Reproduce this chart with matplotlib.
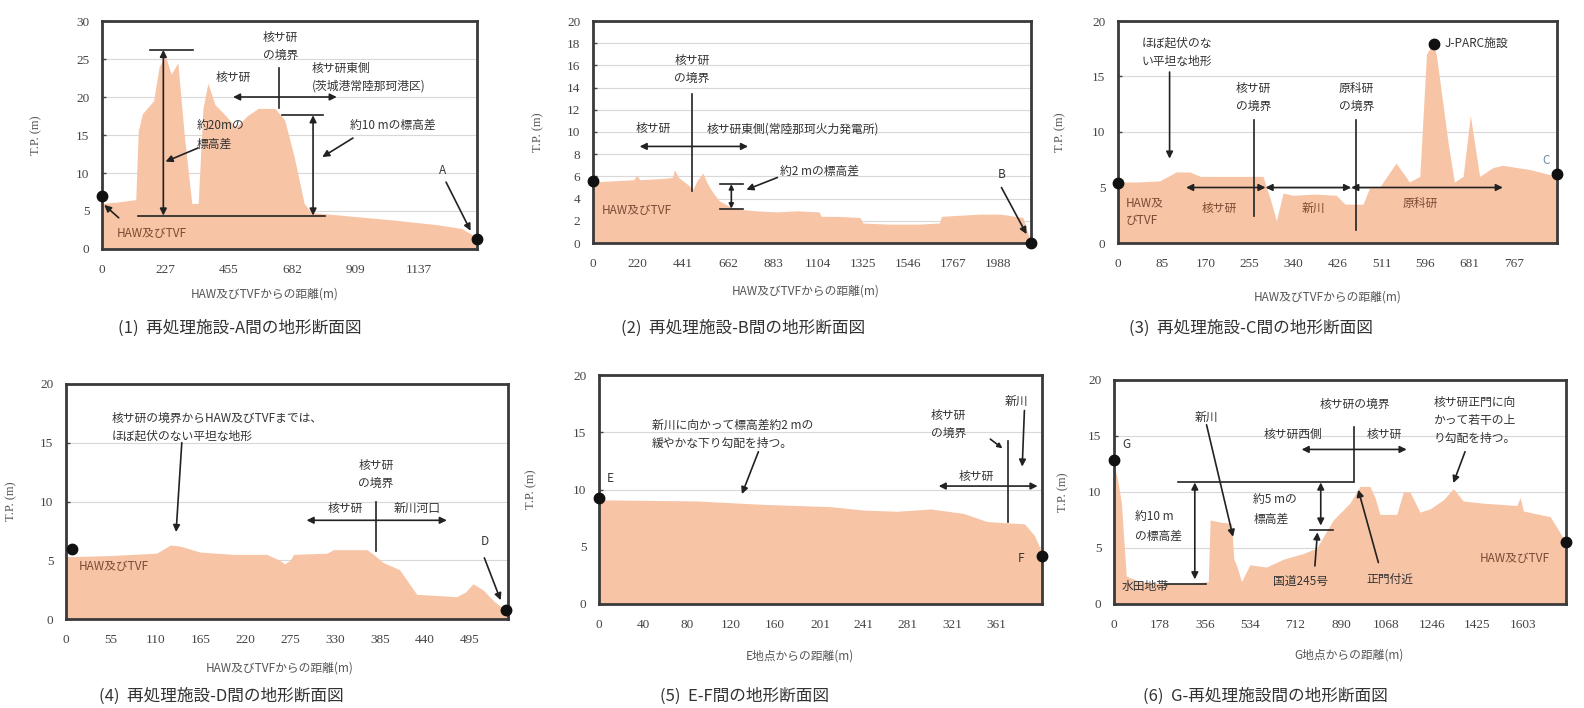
import matplotlib
matplotlib.use("Agg")
import matplotlib.pyplot as plt

plt.rcParams['font.family'] = ['Noto Sans CJK JP', 'DejaVu Sans']

FILL = '#F7C4A6'
TXT = '#333333'
BRN = '#7a4a32'
SERIF = ['Liberation Serif', 'Noto Sans CJK JP']

# ---------------- data ----------------
p1_x = [0, 60, 121, 130, 145, 185, 205, 227, 248, 272, 295, 322, 345, 362, 380, 405, 445, 480, 520, 560, 620, 655, 690, 725, 750, 900, 1050, 1200, 1290, 1345]
p1_y = [6.0, 6.2, 6.5, 15.5, 17.8, 19.5, 24.0, 25.5, 23.0, 24.5, 15.0, 6.0, 6.0, 18.5, 21.8, 19.0, 17.5, 16.0, 17.5, 18.5, 18.5, 17.0, 12.0, 6.0, 4.8, 4.3, 3.8, 3.2, 2.7, 1.5]
p1_ticks = [0, 227, 455, 682, 909, 1137]

p2_x = [0, 100, 200, 215, 230, 330, 390, 400, 420, 470, 490, 510, 540, 560, 590, 620, 680, 740, 800, 900, 1000, 1110, 1120, 1200, 1310, 1325, 1450, 1600, 1700, 1710, 1800, 1900, 2000, 2110, 2150]
p2_y = [5.5, 5.6, 5.7, 6.1, 5.7, 5.8, 5.9, 6.6, 5.9, 5.2, 4.8, 5.6, 6.3, 5.4, 4.5, 3.8, 3.2, 3.0, 2.9, 2.8, 2.9, 2.8, 2.4, 2.4, 2.3, 1.8, 1.7, 1.7, 1.8, 2.4, 2.5, 2.6, 2.6, 2.3, 0.0]
p2_ticks = [0, 220, 441, 662, 883, 1104, 1325, 1546, 1767, 1988]

p3_x = [0, 40, 81, 113, 139, 160, 200, 281, 295, 307, 320, 339, 380, 423, 440, 475, 488, 507, 514, 539, 565, 585, 598, 610, 617, 640, 652, 669, 683, 701, 727, 746, 800, 851]
p3_y = [5.5, 5.5, 5.6, 6.4, 6.4, 6.0, 6.0, 6.0, 4.0, 2.0, 4.5, 4.3, 4.4, 4.3, 3.5, 3.5, 5.0, 5.0, 5.5, 7.2, 5.5, 6.0, 17.0, 18.0, 17.0, 9.0, 5.5, 6.0, 11.5, 6.0, 6.8, 7.0, 6.6, 6.0]
p3_ticks = [0, 85, 170, 255, 340, 426, 511, 596, 681, 767]

p4_x = [0, 54, 111, 128, 140, 164, 205, 246, 262, 268, 275, 279, 320, 328, 369, 377, 389, 409, 426, 430, 479, 490, 499, 511, 525, 538, 542]
p4_y = [5.3, 5.4, 5.6, 6.3, 6.2, 5.7, 5.5, 5.5, 5.0, 4.7, 5.0, 5.5, 5.6, 5.9, 5.9, 5.5, 4.8, 4.2, 2.5, 2.1, 1.9, 2.3, 3.0, 2.5, 1.5, 0.8, 0.8]
p4_ticks = [0, 55, 110, 165, 220, 275, 330, 385, 440, 495]

p5_x = [0, 89, 150, 211, 241, 271, 302, 332, 353, 370, 387, 396, 403]
p5_y = [9.1, 9.0, 8.7, 8.5, 8.2, 8.1, 8.3, 7.9, 7.2, 7.1, 7.0, 6.0, 4.5]
p5_ticks = [0, 40, 80, 120, 160, 201, 241, 281, 321, 361]

p6_x = [0, 15, 29, 48, 100, 200, 300, 370, 377, 420, 461, 470, 480, 500, 533, 598, 664, 742, 795, 860, 925, 965, 1004, 1024, 1043, 1109, 1135, 1161, 1200, 1240, 1292, 1331, 1370, 1449, 1580, 1593, 1606, 1711, 1773]
p6_y = [12.5, 11.0, 9.0, 2.5, 2.0, 1.8, 1.8, 2.0, 7.5, 7.3, 7.2, 4.0, 3.5, 2.0, 3.5, 3.3, 4.0, 4.5, 5.0, 7.5, 9.0, 10.5, 10.5, 9.5, 8.0, 8.0, 10.0, 10.0, 8.2, 8.5, 9.3, 10.3, 9.2, 9.0, 8.8, 9.5, 8.3, 7.8, 5.5]
p6_ticks = [0, 178, 356, 534, 712, 890, 1068, 1246, 1425, 1603]

captions = ['(1)  再処理施設-A間の地形断面図', '(2)  再処理施設-B間の地形断面図', '(3)  再処理施設-C間の地形断面図',
            '(4)  再処理施設-D間の地形断面図', '(5)  E-F間の地形断面図', '(6)  G-再処理施設間の地形断面図']
xlabels = ['HAW及びTVFからの距離(m)', 'HAW及びTVFからの距離(m)', 'HAW及びTVFからの距離(m)',
           'HAW及びTVFからの距離(m)', 'E地点からの距離(m)', 'G地点からの距離(m)']

W, H = 1584, 708
fig = plt.figure(figsize=(W / 100, H / 100), dpi=100)

FS = 8.5


def make_ax(l, t, r, b):
    return fig.add_axes([l / W, 1 - b / H, (r - l) / W, (b - t) / H])


def style(ax, xs, ys, xlim, ylim, yticks, xticks, xlabel, xlab_pos, ylab_x):
    ax.fill_between(xs, ys, 0, color=FILL, lw=0, zorder=1)
    ax.set_xlim(*xlim)
    ax.set_ylim(*ylim)
    ax.set_yticks(yticks)
    ax.set_xticks(xticks)
    ax.set_xticklabels([str(t) for t in xticks], family=SERIF, fontsize=9.5, color='#444')
    ax.set_yticklabels([str(t) for t in yticks], family=SERIF, fontsize=9.5, color='#444')
    ax.tick_params(direction='in', length=3, width=1, colors='#444')
    ax.tick_params(axis='x', pad=11)
    ax.tick_params(axis='y', pad=9)
    ax.yaxis.grid(True, color='#d8d8d8', lw=0.8, zorder=0)
    ax.set_axisbelow(True)
    for s in ax.spines.values():
        s.set_linewidth(2.0)
        s.set_color('#3a3a3a')
    ax.set_xlabel(xlabel, fontsize=8.5, color='#555')
    ax.xaxis.set_label_coords(xlab_pos[0], xlab_pos[1])
    ax.set_ylabel('T.P. (m)', fontsize=9, color='#555', family=SERIF)
    ax.yaxis.set_label_coords(ylab_x, 0.5)


def arr(ax, x0, y0, x1, y1, both=False, lw=1.2, ms=10):
    ax.annotate('', xy=(x1, y1), xytext=(x0, y0),
                arrowprops=dict(arrowstyle='<|-|>' if both else '-|>', color='#222', lw=lw,
                                mutation_scale=ms, shrinkA=0, shrinkB=0), zorder=6)


def dot(ax, x, y):
    ax.plot([x], [y], 'o', color='#111', ms=7.5, clip_on=False, zorder=7)


def txt(ax, x, y, s, ha='left', va='center', color=TXT, fs=FS):
    ax.text(x, y, s, ha=ha, va=va, color=color, fontsize=fs, zorder=8, linespacing=1.5)


def line(ax, xs, ys, lw=1.2):
    ax.plot(xs, ys, color='#222', lw=lw, zorder=6)


# ---------------- panel 1 ----------------
ax1 = make_ax(102, 21, 477, 249)
style(ax1, p1_x, p1_y, (0, 1345), (0, 30), [0, 5, 10, 15, 20, 25, 30], p1_ticks,
      xlabels[0], (0.435, -0.17), -0.16)
line(ax1, [172, 327], [26.2, 26.2])
arr(ax1, 220, 4.4, 220, 26.2, both=True)
line(ax1, [130, 800], [4.4, 4.4])
line(ax1, [645, 793], [17.6, 17.6])
arr(ax1, 757, 4.4, 757, 17.6, both=True)
arr(ax1, 470, 20, 842, 20, both=True)
line(ax1, [635, 635], [18.5, 23.8])
txt(ax1, 640, 26.6, '核サ研\nの境界', ha='center')
txt(ax1, 470, 22.6, '核サ研', ha='center')
txt(ax1, 752, 22.6, '核サ研東側\n(茨城港常陸那珂港区)')
txt(ax1, 340, 15.0, '約20mの\n標高差')
arr(ax1, 345, 13.3, 228, 11.5)
txt(ax1, 890, 16.3, '約10 mの標高差')
arr(ax1, 900, 14.6, 790, 12.1)
txt(ax1, 1222, 10.3, 'A', ha='center')
arr(ax1, 1234, 8.8, 1322, 2.4)
txt(ax1, 54, 2.1, 'HAW及びTVF', color=BRN)
arr(ax1, 60, 4.1, 8, 5.8)
dot(ax1, 0, 7.0)
dot(ax1, 1345, 1.3)

# ---------------- panel 2 ----------------
ax2 = make_ax(593, 21, 1031, 243)
style(ax2, p2_x, p2_y, (0, 2150), (0, 20), list(range(0, 21, 2)), p2_ticks,
      xlabels[1], (0.486, -0.185), -0.112)
line(ax2, [486, 486], [4.7, 13.45])
txt(ax2, 486, 15.6, '核サ研\nの境界', ha='center')
arr(ax2, 229, 8.7, 761, 8.7, both=True)
txt(ax2, 295, 10.3, '核サ研', ha='center')
txt(ax2, 560, 10.3, '核サ研東側(常陸那珂火力発電所)')
arr(ax2, 679, 3.1, 679, 5.3, both=True, ms=7)
line(ax2, [622, 736], [5.3, 5.3])
line(ax2, [622, 736], [3.1, 3.1])
txt(ax2, 916, 6.5, '約2 mの標高差')
arr(ax2, 905, 5.9, 753, 4.8)
txt(ax2, 2005, 6.2, 'B', ha='center')
arr(ax2, 2005, 5.0, 2128, 0.8)
txt(ax2, 41, 2.9, 'HAW及びTVF', color=BRN)
dot(ax2, 0, 5.6)
dot(ax2, 2150, 0.0)

# ---------------- panel 3 ----------------
ax3 = make_ax(1118, 21, 1557, 243)
style(ax3, p3_x, p3_y, (0, 851), (0, 20), [0, 5, 10, 15, 20], p3_ticks,
      xlabels[2], (0.478, -0.216), -0.118)
txt(ax3, 45, 17.2, 'ほぼ起伏のな\nい平坦な地形')
arr(ax3, 100, 15.4, 100, 7.6)
line(ax3, [263, 263], [2.4, 11.1])
txt(ax3, 263, 13.1, '核サ研\nの境界', ha='center')
line(ax3, [462, 462], [1.2, 11.1])
txt(ax3, 462, 13.1, '原科研\nの境界', ha='center')
arr(ax3, 132, 5.0, 286, 5.0, both=True)
arr(ax3, 286, 5.0, 452, 5.0, both=True)
arr(ax3, 452, 5.0, 746, 5.0, both=True)
txt(ax3, 197, 3.1, '核サ研', ha='center', color=BRN)
txt(ax3, 378, 3.1, '新川', ha='center', color=BRN)
txt(ax3, 585, 3.6, '原科研', ha='center', color=BRN)
txt(ax3, 15, 2.8, 'HAW及\nびTVF', color=BRN)
dot(ax3, 612, 17.9)
txt(ax3, 633, 18.0, 'J-PARC施設')
txt(ax3, 830, 7.4, 'C', ha='center', color='#6a8aa8')
dot(ax3, 0, 5.4)
dot(ax3, 851, 6.2)

# ---------------- panel 4 ----------------
ax4 = make_ax(66, 384, 508, 619)
style(ax4, p4_x, p4_y, (0, 542), (0, 20), [0, 5, 10, 15, 20], p4_ticks,
      xlabels[3], (0.484, -0.183), -0.111)
txt(ax4, 56, 16.3, '核サ研の境界からHAW及びTVFまでは、\nほぼ起伏のない平坦な地形')
arr(ax4, 142, 15.0, 135, 7.4)
line(ax4, [380, 380], [5.75, 10.0])
txt(ax4, 380, 12.3, '核サ研\nの境界', ha='center')
arr(ax4, 295, 8.4, 467, 8.4, both=True)
txt(ax4, 342, 9.4, '核サ研', ha='center')
txt(ax4, 430, 9.4, '新川河口', ha='center')
txt(ax4, 16, 4.5, 'HAW及びTVF', color=BRN)
txt(ax4, 513, 6.6, 'D', ha='center')
arr(ax4, 513, 5.2, 533, 1.6)
dot(ax4, 7, 5.95)
dot(ax4, 539, 0.8)

# ---------------- panel 5 ----------------
ax5 = make_ax(599, 375, 1042, 604)
style(ax5, p5_x, p5_y, (0, 403), (0, 20), [0, 5, 10, 15, 20], p5_ticks,
      xlabels[4], (0.454, -0.197), -0.14)
txt(ax5, 48, 14.8, '新川に向かって標高差約2 mの\n緩やかな下り勾配を持つ。')
arr(ax5, 145, 13.3, 130, 9.6)
line(ax5, [372, 372], [7.2, 14.2])
txt(ax5, 302, 15.7, '核サ研\nの境界')
arr(ax5, 356, 14.4, 367, 13.6, ms=7)
txt(ax5, 369, 17.7, '新川')
arr(ax5, 387, 16.9, 385, 12.0)
arr(ax5, 309, 10.3, 399, 10.3, both=True)
txt(ax5, 343, 11.1, '核サ研', ha='center')
txt(ax5, 10, 11.0, 'E', ha='center')
txt(ax5, 384, 4.0, 'F', ha='center')
dot(ax5, 0, 9.3)
dot(ax5, 403, 4.2)

# ---------------- panel 6 ----------------
ax6 = make_ax(1114, 380, 1566, 604)
style(ax6, p6_x, p6_y, (0, 1773), (0, 20), [0, 5, 10, 15, 20], p6_ticks,
      xlabels[5], (0.52, -0.2), -0.1)
line(ax6, [251, 938], [10.85, 10.85])
arr(ax6, 317, 2.2, 317, 10.85, both=True)
line(ax6, [200, 360], [1.8, 1.8])
txt(ax6, 29, 1.6, '水田地帯')
txt(ax6, 81, 6.9, '約10 m\nの標高差')
arr(ax6, 811, 7.0, 811, 10.85, both=True)
line(ax6, [768, 860], [6.6, 6.6])
txt(ax6, 546, 8.4, '約5 mの\n標高差')
txt(ax6, 624, 1.9, '国道245号')
arr(ax6, 788, 3.4, 798, 6.4)
txt(ax6, 363, 16.7, '新川', ha='center')
arr(ax6, 363, 16.0, 467, 6.0)
txt(ax6, 945, 17.8, '核サ研の境界', ha='center')
line(ax6, [942, 942], [10.85, 15.8])
txt(ax6, 585, 15.1, '核サ研西側')
txt(ax6, 990, 15.1, '核サ研')
arr(ax6, 736, 13.8, 1148, 13.8, both=True)
txt(ax6, 990, 2.2, '正門付近')
arr(ax6, 1037, 3.7, 958, 10.2)
txt(ax6, 1253, 16.4, '核サ研正門に向\nかって若干の上\nり勾配を持つ。')
arr(ax6, 1377, 13.6, 1331, 10.8)
txt(ax6, 1436, 4.1, 'HAW及びTVF', color=BRN)
txt(ax6, 48, 14.2, 'G', ha='center')
dot(ax6, 0, 12.9)
dot(ax6, 1773, 5.5)

# ---------------- captions ----------------
cap_pos = [(118, 328), (621, 328), (1129, 328), (99, 696), (660, 696), (1143, 696)]
for (cx, cy), c in zip(cap_pos, captions):
    fig.text(cx / W, 1 - cy / H, c, fontsize=12, color='#333', ha='left', va='center')

fig.savefig('out.png', dpi=100)
